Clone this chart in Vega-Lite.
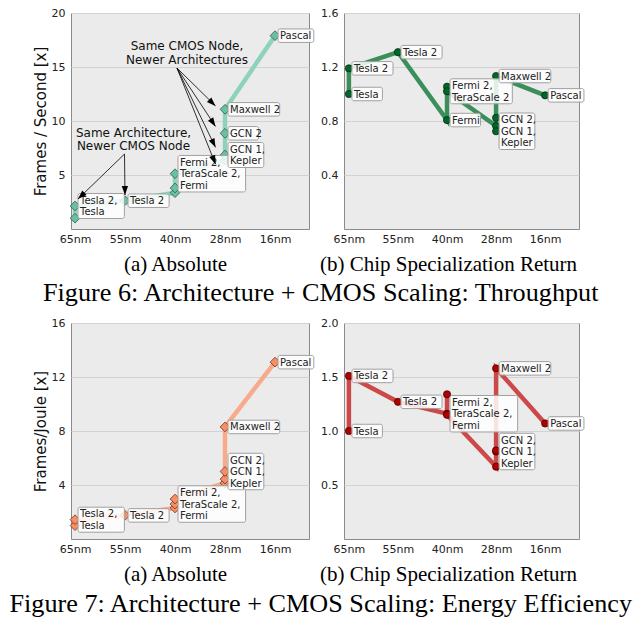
{
  "$schema": "https://vega.github.io/schema/vega-lite/v6.json",
  "padding": {"left": 8, "top": 6, "right": 0, "bottom": 0},
  "background": "white",
  "datasets": {
    "thr_abs": [
      {"node": "65nm", "idx": 0, "chip": "Tesla", "v": 1.0, "ord": 1, "label": ""},
      {"node": "65nm", "idx": 0, "chip": "Tesla 2", "v": 2.13, "ord": 2, "label": "Tesla 2,\nTesla"},
      {"node": "55nm", "idx": 1, "chip": "Tesla 2", "v": 2.62, "ord": 3, "label": "Tesla 2"},
      {"node": "40nm", "idx": 2, "chip": "Fermi", "v": 3.36, "ord": 4, "label": ""},
      {"node": "40nm", "idx": 2, "chip": "TeraScale 2", "v": 3.8, "ord": 5, "label": ""},
      {"node": "40nm", "idx": 2, "chip": "Fermi 2", "v": 5.12, "ord": 6, "label": "Fermi 2,\nTeraScale 2,\nFermi"},
      {"node": "28nm", "idx": 3, "chip": "Kepler", "v": 6.35, "ord": 7, "label": ""},
      {"node": "28nm", "idx": 3, "chip": "GCN 1", "v": 6.85, "ord": 8, "label": "GCN 1,\nKepler"},
      {"node": "28nm", "idx": 3, "chip": "GCN 2", "v": 8.86, "ord": 9, "label": "GCN 2"},
      {"node": "28nm", "idx": 3, "chip": "Maxwell 2", "v": 11.08, "ord": 10, "label": "Maxwell 2"},
      {"node": "16nm", "idx": 4, "chip": "Pascal", "v": 17.9, "ord": 11, "label": "Pascal"}
    ],
    "thr_ret": [
      {"node": "65nm", "idx": 0, "chip": "Tesla", "v": 1.0, "ord": 1, "label": "Tesla"},
      {"node": "65nm", "idx": 0, "chip": "Tesla 2", "v": 1.19, "ord": 2, "label": "Tesla 2"},
      {"node": "55nm", "idx": 1, "chip": "Tesla 2", "v": 1.31, "ord": 3, "label": "Tesla 2"},
      {"node": "40nm", "idx": 2, "chip": "Fermi", "v": 0.807, "ord": 4, "label": "Fermi"},
      {"node": "40nm", "idx": 2, "chip": "Fermi 2", "v": 1.054, "ord": 5, "label": ""},
      {"node": "40nm", "idx": 2, "chip": "TeraScale 2", "v": 1.02, "ord": 6, "label": "Fermi 2,\nTeraScale 2"},
      {"node": "28nm", "idx": 3, "chip": "GCN 1", "v": 0.763, "ord": 7, "label": ""},
      {"node": "28nm", "idx": 3, "chip": "Kepler", "v": 0.724, "ord": 8, "label": "GCN 2,\nGCN 1,\nKepler"},
      {"node": "28nm", "idx": 3, "chip": "GCN 2", "v": 0.824, "ord": 9, "label": ""},
      {"node": "28nm", "idx": 3, "chip": "Maxwell 2", "v": 1.133, "ord": 10, "label": "Maxwell 2"},
      {"node": "16nm", "idx": 4, "chip": "Pascal", "v": 0.99, "ord": 11, "label": "Pascal"}
    ],
    "en_abs": [
      {"node": "65nm", "idx": 0, "chip": "Tesla", "v": 0.99, "ord": 1, "label": ""},
      {"node": "65nm", "idx": 0, "chip": "Tesla 2", "v": 1.43, "ord": 2, "label": "Tesla 2,\nTesla"},
      {"node": "55nm", "idx": 1, "chip": "Tesla 2", "v": 1.75, "ord": 3, "label": "Tesla 2"},
      {"node": "40nm", "idx": 2, "chip": "Fermi", "v": 2.3, "ord": 4, "label": ""},
      {"node": "40nm", "idx": 2, "chip": "TeraScale 2", "v": 2.59, "ord": 5, "label": "Fermi 2,\nTeraScale 2,\nFermi"},
      {"node": "40nm", "idx": 2, "chip": "Fermi 2", "v": 2.96, "ord": 6, "label": ""},
      {"node": "28nm", "idx": 3, "chip": "Kepler", "v": 4.15, "ord": 7, "label": ""},
      {"node": "28nm", "idx": 3, "chip": "GCN 1", "v": 4.44, "ord": 8, "label": ""},
      {"node": "28nm", "idx": 3, "chip": "GCN 2", "v": 5.0, "ord": 9, "label": "GCN 2,\nGCN 1,\nKepler"},
      {"node": "28nm", "idx": 3, "chip": "Maxwell 2", "v": 8.3, "ord": 10, "label": "Maxwell 2"},
      {"node": "16nm", "idx": 4, "chip": "Pascal", "v": 13.1, "ord": 11, "label": "Pascal"}
    ],
    "en_ret": [
      {"node": "65nm", "idx": 0, "chip": "Tesla", "v": 1.0, "ord": 1, "label": "Tesla"},
      {"node": "65nm", "idx": 0, "chip": "Tesla 2", "v": 1.51, "ord": 2, "label": "Tesla 2"},
      {"node": "55nm", "idx": 1, "chip": "Tesla 2", "v": 1.27, "ord": 3, "label": "Tesla 2"},
      {"node": "40nm", "idx": 2, "chip": "Fermi", "v": 1.16, "ord": 4, "label": "Fermi 2,\nTeraScale 2,\nFermi"},
      {"node": "40nm", "idx": 2, "chip": "TeraScale 2", "v": 1.34, "ord": 5, "label": ""},
      {"node": "40nm", "idx": 2, "chip": "Fermi 2", "v": 1.15, "ord": 6, "label": ""},
      {"node": "28nm", "idx": 3, "chip": "Kepler", "v": 0.67, "ord": 7, "label": ""},
      {"node": "28nm", "idx": 3, "chip": "GCN 1", "v": 0.81, "ord": 8, "label": "GCN 2,\nGCN 1,\nKepler"},
      {"node": "28nm", "idx": 3, "chip": "GCN 2", "v": 0.82, "ord": 9, "label": ""},
      {"node": "28nm", "idx": 3, "chip": "Maxwell 2", "v": 1.58, "ord": 10, "label": "Maxwell 2"},
      {"node": "16nm", "idx": 4, "chip": "Pascal", "v": 1.07, "ord": 11, "label": "Pascal"}
    ],
    "arrows": [
      {"idx": 2.04, "v": 14.9, "idx2": 2.81, "v2": 11.4},
      {"idx": 2.04, "v": 14.9, "idx2": 2.81, "v2": 9.5},
      {"idx": 2.04, "v": 14.9, "idx2": 2.81, "v2": 7.56},
      {"idx": 2.04, "v": 14.9, "idx2": 2.81, "v2": 6.0},
      {"idx": 0.99, "v": 6.94, "idx2": 0.06, "v2": 2.78},
      {"idx": 0.99, "v": 6.94, "idx2": 1.0, "v2": 3.15}
    ],
    "notes": [
      {"idx": 2.24, "v": 16.27, "label": "Same CMOS Node,\nNewer Architectures"},
      {"idx": 1.17, "v": 8.24, "label": "Same Architecture,\nNewer CMOS Node"}
    ]
  },
  "config": {
    "font": "DejaVu Sans",
    "view": {"fill": "#ebebeb", "stroke": "#8a8a8a", "strokeWidth": 1},
    "axis": {
      "domain": false, "ticks": false,
      "labelFont": "DejaVu Sans", "labelFontSize": 11, "labelColor": "#222222",
      "gridColor": "#d2d2d2", "gridWidth": 1,
      "titleFont": "DejaVu Sans", "titleFontWeight": "normal", "titleColor": "#111111"
    },
    "axisX": {"grid": false, "labelPadding": 4, "titleFont": "Liberation Serif", "titleFontSize": 21, "titlePadding": 9, "titleX": 104, "titleColor": "#000000"},
    "axisY": {"labelPadding": 6, "titleFontSize": 15, "titlePadding": 3},
    "title": {"font": "Liberation Serif", "fontSize": 26.2, "fontWeight": "normal", "color": "#000000"}
  },
  "spacing": 10,
  "vconcat": [
    {
      "title": {"text": "Figure 6: Architecture + CMOS Scaling: Throughput", "orient": "bottom", "anchor": "middle", "offset": 5, "dx": 12},
      "bounds": "flush",
      "spacing": 35,
      "hconcat": [
        {
          "width": 238, "height": 216,
          "data": {"name": "thr_abs"},
          "encoding": {
            "x": {"field": "idx", "type": "quantitative", "scale": {"domain": [-0.08, 4.68], "nice": false, "zero": false},
                  "axis": {"values": [0, 1, 2, 3, 4], "labelExpr": "['65nm','55nm','40nm','28nm','16nm'][datum.value]", "title": "(a) Absolute"}},
            "y": {"field": "v", "type": "quantitative", "scale": {"domain": [0, 20], "nice": false, "zero": false},
                  "axis": {"values": [5, 10, 15, 20], "title": "Frames / Second [x]"}}
          },
          "layer": [
            {"mark": {"type": "line", "color": "#8dd3b9", "strokeWidth": 4.5}, "encoding": {"order": {"field": "ord", "type": "quantitative"}}},
            {"mark": {"type": "point", "shape": "diamond", "filled": true, "fill": "#66c2a5", "stroke": "#2f3f38", "strokeWidth": 0.7, "size": 95, "opacity": 1}},
            {
              "transform": [
                {"filter": "datum.label != ''"},
                {"calculate": "length(split(datum.label, '\\n'))", "as": "nl"},
                {"calculate": "max(length(split(datum.label, '\\n')[0]), length(split(datum.label, '\\n')[1] || ''), length(split(datum.label, '\\n')[2] || ''))", "as": "mc"}
              ],
              "mark": {"type": "rect", "fill": "white", "fillOpacity": 0.85, "stroke": "#a0a0a0", "strokeWidth": 1, "cornerRadius": 2,
                       "xOffset": 3, "x2Offset": {"expr": "7 + datum.mc * 5.3"},
                       "yOffset": {"expr": "-(datum.nl * 11.5 + 2) / 2"}, "y2Offset": {"expr": "(datum.nl * 11.5 + 2) / 2"}},
              "encoding": {"x2": {"field": "idx"}, "y2": {"field": "v"}}
            },
            {
              "transform": [
                {"filter": "datum.label != ''"},
                {"calculate": "length(split(datum.label, '\\n'))", "as": "nl"}
              ],
              "mark": {"type": "text", "align": "left", "baseline": "top", "dx": 5, "dy": {"expr": "-4.5 - (datum.nl - 1) * 5.75"}, "fontSize": 10, "lineBreak": "\n", "lineHeight": 11.5, "color": "#222222"},
              "encoding": {"text": {"field": "label"}}
            },
            {
              "data": {"name": "arrows"},
              "mark": {"type": "rule", "color": "#000000", "strokeWidth": 0.8},
              "encoding": {"x2": {"field": "idx2"}, "y2": {"field": "v2"}}
            },
            {
              "data": {"name": "arrows"},
              "transform": [{"calculate": "atan2((datum.idx2 - datum.idx) * 50, (datum.v2 - datum.v) * 10.8) * 180 / PI", "as": "ang"}],
              "mark": {"type": "point", "shape": "M0,0L-0.6,1.7L0.6,1.7Z", "filled": true, "fill": "#000000", "strokeWidth": 0, "size": 110, "opacity": 1},
              "encoding": {
                "x": {"field": "idx2", "type": "quantitative"},
                "y": {"field": "v2", "type": "quantitative"},
                "angle": {"field": "ang", "type": "quantitative", "scale": null}
              }
            },
            {
              "data": {"name": "notes"},
              "transform": [{"calculate": "length(split(datum.label, '\\n'))", "as": "nl"}],
              "mark": {"type": "text", "align": "center", "baseline": "top", "dy": {"expr": "-5.3 - (datum.nl - 1) * 6.7"}, "fontSize": 12, "lineBreak": "\n", "lineHeight": 13.4, "color": "#111111"},
              "encoding": {"text": {"field": "label"}}
            }
          ]
        },
        {
          "width": 235, "height": 216,
          "data": {"name": "thr_ret"},
          "encoding": {
            "x": {"field": "idx", "type": "quantitative", "scale": {"domain": [-0.1, 4.69], "nice": false, "zero": false},
                  "axis": {"values": [0, 1, 2, 3, 4], "labelExpr": "['65nm','55nm','40nm','28nm','16nm'][datum.value]", "title": "(b) Chip Specialization Return"}},
            "y": {"field": "v", "type": "quantitative", "scale": {"domain": [0, 1.6], "nice": false, "zero": false},
                  "axis": {"values": [0.4, 0.8, 1.2, 1.6], "format": ".1f", "title": null}}
          },
          "layer": [
            {"mark": {"type": "line", "color": "#3b8f5b", "strokeWidth": 4.5}, "encoding": {"order": {"field": "ord", "type": "quantitative"}}},
            {"mark": {"type": "point", "shape": "circle", "filled": true, "fill": "#00662a", "stroke": "#002010", "strokeWidth": 0.7, "size": 52, "opacity": 1}},
            {
              "transform": [
                {"filter": "datum.label != ''"},
                {"calculate": "length(split(datum.label, '\\n'))", "as": "nl"},
                {"calculate": "max(length(split(datum.label, '\\n')[0]), length(split(datum.label, '\\n')[1] || ''), length(split(datum.label, '\\n')[2] || ''))", "as": "mc"}
              ],
              "mark": {"type": "rect", "fill": "white", "fillOpacity": 0.85, "stroke": "#a0a0a0", "strokeWidth": 1, "cornerRadius": 2,
                       "xOffset": 3, "x2Offset": {"expr": "7 + datum.mc * 5.3"},
                       "yOffset": {"expr": "-(datum.nl * 11.5 + 2) / 2"}, "y2Offset": {"expr": "(datum.nl * 11.5 + 2) / 2"}},
              "encoding": {"x2": {"field": "idx"}, "y2": {"field": "v"}}
            },
            {
              "transform": [
                {"filter": "datum.label != ''"},
                {"calculate": "length(split(datum.label, '\\n'))", "as": "nl"}
              ],
              "mark": {"type": "text", "align": "left", "baseline": "top", "dx": 5, "dy": {"expr": "-4.5 - (datum.nl - 1) * 5.75"}, "fontSize": 10, "lineBreak": "\n", "lineHeight": 11.5, "color": "#222222"},
              "encoding": {"text": {"field": "label"}}
            }
          ]
        }
      ]
    },
    {
      "title": {"text": "Figure 7: Architecture + CMOS Scaling: Energy Efficiency", "orient": "bottom", "anchor": "middle", "offset": 6, "dx": 12},
      "bounds": "flush",
      "spacing": 35,
      "hconcat": [
        {
          "width": 238, "height": 216,
          "data": {"name": "en_abs"},
          "encoding": {
            "x": {"field": "idx", "type": "quantitative", "scale": {"domain": [-0.08, 4.68], "nice": false, "zero": false},
                  "axis": {"values": [0, 1, 2, 3, 4], "labelExpr": "['65nm','55nm','40nm','28nm','16nm'][datum.value]", "title": "(a) Absolute"}},
            "y": {"field": "v", "type": "quantitative", "scale": {"domain": [0, 16], "nice": false, "zero": false},
                  "axis": {"values": [4, 8, 12, 16], "title": "Frames/Joule [x]"}}
          },
          "layer": [
            {"mark": {"type": "line", "color": "#f8ab8c", "strokeWidth": 4.5}, "encoding": {"order": {"field": "ord", "type": "quantitative"}}},
            {"mark": {"type": "point", "shape": "diamond", "filled": true, "fill": "#fc8d62", "stroke": "#4a2a1a", "strokeWidth": 0.7, "size": 95, "opacity": 1}},
            {
              "transform": [
                {"filter": "datum.label != ''"},
                {"calculate": "length(split(datum.label, '\\n'))", "as": "nl"},
                {"calculate": "max(length(split(datum.label, '\\n')[0]), length(split(datum.label, '\\n')[1] || ''), length(split(datum.label, '\\n')[2] || ''))", "as": "mc"}
              ],
              "mark": {"type": "rect", "fill": "white", "fillOpacity": 0.85, "stroke": "#a0a0a0", "strokeWidth": 1, "cornerRadius": 2,
                       "xOffset": 3, "x2Offset": {"expr": "7 + datum.mc * 5.3"},
                       "yOffset": {"expr": "-(datum.nl * 11.5 + 2) / 2"}, "y2Offset": {"expr": "(datum.nl * 11.5 + 2) / 2"}},
              "encoding": {"x2": {"field": "idx"}, "y2": {"field": "v"}}
            },
            {
              "transform": [
                {"filter": "datum.label != ''"},
                {"calculate": "length(split(datum.label, '\\n'))", "as": "nl"}
              ],
              "mark": {"type": "text", "align": "left", "baseline": "top", "dx": 5, "dy": {"expr": "-4.5 - (datum.nl - 1) * 5.75"}, "fontSize": 10, "lineBreak": "\n", "lineHeight": 11.5, "color": "#222222"},
              "encoding": {"text": {"field": "label"}}
            }
          ]
        },
        {
          "width": 235, "height": 216,
          "data": {"name": "en_ret"},
          "encoding": {
            "x": {"field": "idx", "type": "quantitative", "scale": {"domain": [-0.1, 4.69], "nice": false, "zero": false},
                  "axis": {"values": [0, 1, 2, 3, 4], "labelExpr": "['65nm','55nm','40nm','28nm','16nm'][datum.value]", "title": "(b) Chip Specialization Return"}},
            "y": {"field": "v", "type": "quantitative", "scale": {"domain": [0, 2], "nice": false, "zero": false},
                  "axis": {"values": [0.5, 1.0, 1.5, 2.0], "format": ".1f", "title": null}}
          },
          "layer": [
            {"mark": {"type": "line", "color": "#cd4848", "strokeWidth": 4.5}, "encoding": {"order": {"field": "ord", "type": "quantitative"}}},
            {"mark": {"type": "point", "shape": "circle", "filled": true, "fill": "#b00000", "stroke": "#3a0000", "strokeWidth": 0.7, "size": 52, "opacity": 1}},
            {
              "transform": [
                {"filter": "datum.label != ''"},
                {"calculate": "length(split(datum.label, '\\n'))", "as": "nl"},
                {"calculate": "max(length(split(datum.label, '\\n')[0]), length(split(datum.label, '\\n')[1] || ''), length(split(datum.label, '\\n')[2] || ''))", "as": "mc"}
              ],
              "mark": {"type": "rect", "fill": "white", "fillOpacity": 0.85, "stroke": "#a0a0a0", "strokeWidth": 1, "cornerRadius": 2,
                       "xOffset": 3, "x2Offset": {"expr": "7 + datum.mc * 5.3"},
                       "yOffset": {"expr": "-(datum.nl * 11.5 + 2) / 2"}, "y2Offset": {"expr": "(datum.nl * 11.5 + 2) / 2"}},
              "encoding": {"x2": {"field": "idx"}, "y2": {"field": "v"}}
            },
            {
              "transform": [
                {"filter": "datum.label != ''"},
                {"calculate": "length(split(datum.label, '\\n'))", "as": "nl"}
              ],
              "mark": {"type": "text", "align": "left", "baseline": "top", "dx": 5, "dy": {"expr": "-4.5 - (datum.nl - 1) * 5.75"}, "fontSize": 10, "lineBreak": "\n", "lineHeight": 11.5, "color": "#222222"},
              "encoding": {"text": {"field": "label"}}
            }
          ]
        }
      ]
    }
  ]
}
